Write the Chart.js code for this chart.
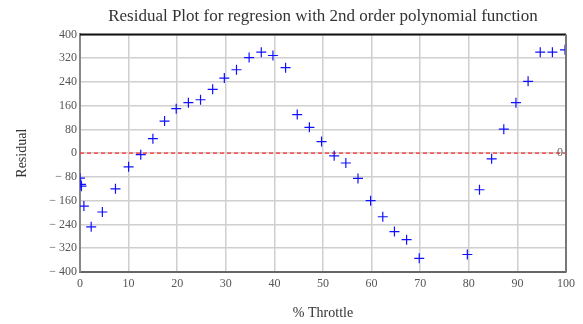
<!DOCTYPE html>
<html lang="en">
<head>
<meta charset="UTF-8">
<title>Residual Plot</title>
<script src="https://cdn.jsdelivr.net/npm/chart.js"></script>
<style>
  html, body { margin: 0; padding: 0; background: #fff; }
  #wrap { width: 583px; height: 324px; }
</style>
</head>
<body>
<div id="wrap"><canvas id="resid" width="583" height="324"></canvas></div>
<script>
// % throttle for each measurement
const throttle = [0, 0.2, 0.3, 0.8, 2.3, 4.6, 7.3, 10, 12.5, 15, 17.4, 19.8, 22.3, 24.8, 27.3, 29.7,
  32.2, 34.8, 37.3, 39.7, 42.3, 44.7, 47.2, 49.7, 52.3, 54.7, 57.2, 59.8, 62.3, 64.7, 67.2, 69.8,
  79.7, 82.2, 84.7, 87.2, 89.7, 92.2, 94.7, 97.2, 99.8];
// residuals
const residual = [-84, -105, -111, -178, -248, -198, -120, -46, -5, 49, 108, 150, 170, 180, 215, 253,
  281, 322, 340, 329, 288, 130, 87, 39, -9, -33, -85, -160, -214, -264, -291, -354,
  -341, -123, -19, 81, 170, 242, 340, 340, 348];
// zero reference line
const zeroLine = [0, 0];
const xRange = [0, 100];
const yRange = [-400, 400];

const serif = "'Liberation Serif', 'DejaVu Serif', serif";

// draws the top/right frame and the "0" tag at the end of the zero line
const frame = {
  id: 'frame',
  afterDraw(chart) {
    const { ctx, chartArea: a, scales } = chart;
    ctx.save();
    ctx.lineWidth = 2;
    ctx.strokeStyle = '#111';
    ctx.beginPath(); ctx.moveTo(a.left, a.top); ctx.lineTo(a.right, a.top); ctx.stroke();
    ctx.strokeStyle = '#777';
    ctx.beginPath(); ctx.moveTo(a.right, a.top); ctx.lineTo(a.right, a.bottom); ctx.stroke();
    ctx.fillStyle = '#666';
    ctx.font = '12px ' + serif;
    ctx.textAlign = 'right';
    ctx.textBaseline = 'middle';
    ctx.fillText('0', a.right - 3, scales.y.getPixelForValue(0));
    ctx.restore();
  }
};

const points = throttle.map((t, i) => ({ x: t, y: residual[i] }));

new Chart(document.getElementById('resid'), {
  type: 'scatter',
  data: {
    datasets: [
      {
        label: 'Residual',
        data: points,
        pointStyle: 'cross',
        pointRadius: 5,
        pointBorderWidth: 1.2,
        borderColor: '#1010ff',
        backgroundColor: '#1010ff',
        order: 1
      },
      {
        label: 'Zero',
        type: 'line',
        data: xRange.map((x, i) => ({ x: x, y: zeroLine[i] })),
        borderColor: '#ff2a2a',
        borderWidth: 1.3,
        borderDash: [4, 3],
        pointRadius: 0,
        order: 2
      }
    ]
  },
  options: {
    responsive: false,
    animation: false,
    layout: { padding: { top: 6, right: 17, bottom: 2, left: 14 } },
    plugins: {
      legend: { display: false },
      tooltip: { enabled: false },
      title: {
        display: true,
        fullSize: false,
        text: 'Residual Plot for regresion with 2nd order polynomial function',
        color: '#333',
        font: { family: serif, size: 17, weight: 'normal' },
        padding: { top: 0, bottom: 8 }
      }
    },
    scales: {
      x: {
        type: 'linear',
        min: xRange[0],
        max: xRange[1],
        afterFit(s) { s.height = 50; },
        ticks: {
          stepSize: 10,
          color: '#555',
          padding: 5,
          maxRotation: 0,
          font: { family: serif, size: 12 }
        },
        grid: { color: '#cfcfcf', lineWidth: 1.5, drawTicks: false },
        border: { color: '#666', width: 2 },
        title: {
          display: true,
          text: '% Throttle',
          color: '#333',
          font: { family: serif, size: 14 },
          padding: { top: 0, bottom: 0 }
        }
      },
      y: {
        min: yRange[0],
        max: yRange[1],
        afterFit(s) { s.width = 66; },
        ticks: {
          stepSize: 80,
          color: '#555',
          padding: 3,
          font: { family: serif, size: 12 },
          callback: v => v < 0 ? '\u2212 ' + Math.abs(v) : String(v)
        },
        grid: { color: '#cfcfcf', lineWidth: 1.5, drawTicks: false },
        border: { color: '#888', width: 2 },
        title: {
          display: true,
          text: 'Residual',
          color: '#333',
          font: { family: serif, size: 14 },
          padding: { top: 0, bottom: 4 }
        }
      }
    }
  },
  plugins: [frame]
});
</script>
</body>
</html>
